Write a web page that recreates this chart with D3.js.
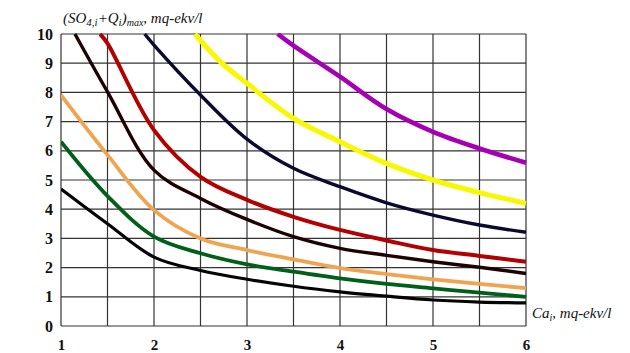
<!DOCTYPE html>
<html>
<head>
<meta charset="utf-8">
<script src="https://cdn.jsdelivr.net/npm/d3@7"></script>
<style>
  html, body { margin: 0; padding: 0; background: #fff; }
  svg { display: block; }
</style>
</head>
<body>
<svg id="chart" width="630" height="353"></svg>
<script>
// Ca_i values (mq-ekv/l) and the matching (SO4,i + Q_i)max limits for each curve
const xFull = [1, 1.5, 2, 2.5, 3, 3.5, 4, 4.5, 5, 5.5, 6];

const xCurve1 = xFull;
const yCurve1 = [4.69, 3.5, 2.36, 1.9, 1.6, 1.36, 1.17, 1.02, 0.89, 0.82, 0.79];

const xCurve2 = xFull;
const yCurve2 = [6.31, 4.45, 3.06, 2.49, 2.11, 1.86, 1.63, 1.44, 1.29, 1.14, 1.0];

const xCurve3 = xFull;
const yCurve3 = [7.91, 5.86, 3.97, 3.0, 2.6, 2.28, 1.98, 1.78, 1.6, 1.44, 1.3];

const xCurve4 = [1.15, 1.5, 2, 2.5, 3, 3.5, 4, 4.5, 5, 5.5, 6];
const yCurve4 = [10, 8.02, 5.34, 4.37, 3.65, 3.06, 2.66, 2.42, 2.2, 2.01, 1.8];

const xCurve5 = [1.42, 1.5, 2, 2.5, 3, 3.5, 4, 4.5, 5, 5.5, 6];
const yCurve5 = [10, 9.68, 6.71, 5.11, 4.32, 3.74, 3.29, 2.93, 2.6, 2.4, 2.2];

const xCurve6 = [1.9, 2, 2.5, 3, 3.5, 4, 4.5, 5, 5.5, 6];
const yCurve6 = [10, 9.62, 7.91, 6.4, 5.4, 4.77, 4.22, 3.8, 3.46, 3.21];

const xCurve7 = [2.44, 2.73, 3, 3.5, 4, 4.5, 5, 5.5, 6];
const yCurve7 = [10, 9.0, 8.31, 7.11, 6.31, 5.57, 5.0, 4.57, 4.2];

const xCurve8 = [3.33, 3.5, 4, 4.5, 5, 5.5, 6];
const yCurve8 = [10, 9.6, 8.54, 7.43, 6.65, 6.08, 5.59];

const xTicks = [1, 2, 3, 4, 5, 6];
const yTicks = [0, 1, 2, 3, 4, 5, 6, 7, 8, 9, 10];
const xGrid = [1, 1.5, 2, 2.5, 3, 3.5, 4, 4.5, 5, 5.5, 6];

const curves = [
  { xs: xCurve1, ys: yCurve1, color: "#050505", width: 3.2 },
  { xs: xCurve2, ys: yCurve2, color: "#00601a", width: 3.8 },
  { xs: xCurve3, ys: yCurve3, color: "#f0a450", width: 3.8 },
  { xs: xCurve4, ys: yCurve4, color: "#1e0202", width: 3.4 },
  { xs: xCurve5, ys: yCurve5, color: "#b30000", width: 4.0 },
  { xs: xCurve6, ys: yCurve6, color: "#0a0a30", width: 3.4 },
  { xs: xCurve7, ys: yCurve7, color: "#f8f800", width: 5.0 },
  { xs: xCurve8, ys: yCurve8, color: "#a600b4", width: 4.6 }
];

const SERIF = "'Liberation Serif', 'Times New Roman', 'DejaVu Serif', serif";

const svg = d3.select("#chart");
const margin = { left: 61, top: 34, right: 104, bottom: 27 };
const W = 630 - margin.left - margin.right;
const H = 353 - margin.top - margin.bottom;

const x = d3.scaleLinear().domain([1, 6]).range([0, W]);
const y = d3.scaleLinear().domain([0, 10]).range([H, 0]);

const g = svg.append("g").attr("transform", `translate(${margin.left},${margin.top})`);

// grid
g.append("g").selectAll("line").data(xGrid).join("line")
  .attr("x1", d => x(d)).attr("x2", d => x(d))
  .attr("y1", 0).attr("y2", H)
  .attr("stroke", "#333").attr("stroke-width", 1.2);
g.append("g").selectAll("line").data(yTicks).join("line")
  .attr("x1", 0).attr("x2", W)
  .attr("y1", d => y(d)).attr("y2", d => y(d))
  .attr("stroke", "#333").attr("stroke-width", 1.2);

// tick labels
const yAxis = g.append("g")
  .call(d3.axisLeft(y).tickValues(yTicks).tickSize(0).tickPadding(8).tickFormat(d3.format("d")));
yAxis.select(".domain").remove();
yAxis.attr("font-family", SERIF).attr("font-size", 16).attr("font-weight", "bold");
yAxis.selectAll("text").style("font-family", SERIF).attr("fill", "#111");

const xAxis = g.append("g").attr("transform", `translate(0,${H})`)
  .call(d3.axisBottom(x).tickValues(xTicks).tickSize(0).tickPadding(13).tickFormat(d3.format("d")));
xAxis.select(".domain").remove();
xAxis.attr("font-family", SERIF).attr("font-size", 15).attr("font-weight", "bold");
xAxis.selectAll("text").style("font-family", SERIF).attr("fill", "#111");

// curves
g.append("clipPath").attr("id", "plot-clip")
  .append("rect").attr("x", 0).attr("y", -1).attr("width", W + 3).attr("height", H + 2);

const line = d3.line()
  .x(d => x(d[0])).y(d => y(d[1]))
  .curve(d3.curveCatmullRom.alpha(0.5));

g.append("g").attr("clip-path", "url(#plot-clip)")
  .selectAll("path").data(curves).join("path")
  .attr("d", c => line(c.xs.map((v, i) => [v, c.ys[i]])))
  .attr("fill", "none")
  .attr("stroke", c => c.color)
  .attr("stroke-width", c => c.width)
  .attr("stroke-linecap", "butt");

// axis titles
const yTitle = svg.append("text")
  .style("font-family", SERIF)
  .attr("x", 63).attr("y", 23)
  .attr("font-style", "italic")
  .attr("font-size", 15).attr("fill", "#111");
yTitle.append("tspan").text("(SO");
yTitle.append("tspan").attr("font-size", 11).attr("dy", 3).text("4,i");
yTitle.append("tspan").attr("dy", -3).text("+Q");
yTitle.append("tspan").attr("font-size", 11).attr("dy", 3).text("i");
yTitle.append("tspan").attr("dy", -3).text(")");
yTitle.append("tspan").attr("font-size", 10).attr("dy", 3).text("max");
yTitle.append("tspan").attr("dy", -3).text(", mq-ekv/l");

const xTitle = svg.append("text")
  .style("font-family", SERIF)
  .attr("x", 532).attr("y", 318)
  .attr("font-style", "italic")
  .attr("font-size", 15).attr("fill", "#111");
xTitle.append("tspan").text("Ca");
xTitle.append("tspan").attr("font-size", 10).attr("dy", 3).text("i");
xTitle.append("tspan").attr("dy", -3).text(", mq-ekv/l");
</script>
</body>
</html>
